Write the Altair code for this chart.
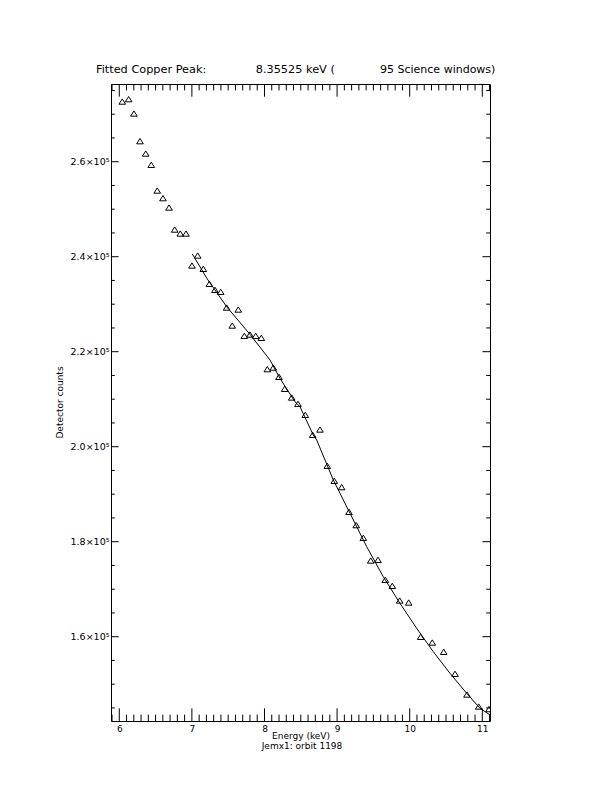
import altair as alt
import pandas as pd
import numpy as np

# ---- data ----
energy = [6.041, 6.129, 6.202, 6.285, 6.364, 6.441, 6.523, 6.602, 6.685, 6.763,
          6.840, 6.919, 7.001, 7.080, 7.157, 7.240, 7.318, 7.397, 7.479, 7.556,
          7.639, 7.722, 7.800, 7.879, 7.956, 8.039, 8.121, 8.200, 8.278, 8.375,
          8.461, 8.562, 8.664, 8.764, 8.865, 8.961, 9.063, 9.164, 9.264, 9.361,
          9.463, 9.563, 9.664, 9.760, 9.862, 9.986, 10.151, 10.311, 10.468, 10.624,
          10.789, 10.950, 11.092]
counts = [2.7263, 2.7314, 2.7011, 2.6429, 2.6168, 2.5931, 2.5389, 2.5229, 2.5032, 2.4568,
          2.4484, 2.4484, 2.3811, 2.4021, 2.3741, 2.3425, 2.3299, 2.3257, 2.2926, 2.2547,
          2.2884, 2.2331, 2.2358, 2.2331, 2.2288, 2.1629, 2.1663, 2.1467, 2.1215, 2.1032,
          2.0899, 2.0667, 2.0246, 2.0358, 1.9594, 1.9278, 1.9145, 1.8625, 1.8345, 1.8078,
          1.7600, 1.7615, 1.7194, 1.7067, 1.6758, 1.6716, 1.5994, 1.5874, 1.5678, 1.5215,
          1.4779, 1.4526, 1.4472]
counts = [c * 1e5 for c in counts]

fit_energy = [7.006, 7.212, 7.479, 7.800, 8.076, 8.213, 8.420, 8.489, 8.672, 8.719,
              8.948, 9.178, 9.408, 9.636, 9.866, 10.096, 10.325, 10.555, 10.785, 10.968, 11.106]
fit_counts = [2.4057, 2.3531, 2.2947, 2.2366, 2.1825, 2.1440, 2.0947, 2.0842, 2.0246, 2.0141,
              1.9299, 1.8598, 1.7895, 1.7263, 1.6703, 1.6177, 1.5684, 1.5229, 1.4808, 1.4493, 1.4352]
fit_counts = [c * 1e5 for c in fit_counts]

x_major = [6, 7, 8, 9, 10, 11]
x_minor = [round(v, 1) for v in np.arange(5.9, 11.11, 0.1) if abs(v - round(v)) > 1e-6]
y_major = [160000, 180000, 200000, 220000, 240000, 260000]
y_minor = [v for v in range(145000, 276000, 5000) if v % 20000 != 0]

title_a = "Fitted Copper Peak:"
title_b = "8.35525 keV ("
title_c = "95 Science windows)"
x_title = "Energy (keV)"
sub_title = "Jemx1: orbit 1198"
y_title = "Detector counts"

W, H = 379, 637
FONT = "DejaVu Sans"

xs = alt.Scale(domain=[5.886, 11.106], zero=False, nice=False)
ys = alt.Scale(domain=[142250, 276360], zero=False, nice=False)

pts = pd.DataFrame({"e": energy, "c": counts})
fit = pd.DataFrame({"e": fit_energy, "c": fit_counts})

tri = "M-1,0.75L1,0.75L0,-0.85Z"

points = alt.Chart(pts).mark_point(shape=tri, size=44, filled=False, color="black",
                                   strokeWidth=1, opacity=1, clip=True).encode(
    x=alt.X("e:Q", scale=xs,
            axis=alt.Axis(values=x_major, title=None, grid=False, ticks=False, tickSize=0,
                          domain=False, labelFont=FONT, labelFontSize=9, labelColor="black",
                          labelPadding=3, labelFlush=False, format="d")),
    y=alt.Y("c:Q", scale=ys,
            axis=alt.Axis(values=y_major, title=None, grid=False, ticks=False, tickSize=0,
                          domain=False, labelFont=FONT, labelFontSize=9.5, labelColor="black",
                          labelPadding=2,
                          labelExpr="format(datum.value/1e5, '.1f') + '×10⁵'")),
)

line = alt.Chart(fit).mark_line(color="black", strokeWidth=1, clip=True).encode(
    x=alt.X("e:Q", scale=xs), y=alt.Y("c:Q", scale=ys))

def xticks(vals, length):
    d = pd.DataFrame({"v": vals})
    bot = alt.Chart(d).mark_rule(color="black", strokeWidth=1).encode(
        x=alt.X("v:Q", scale=xs), y=alt.value(H), y2=alt.value(H - length))
    top = alt.Chart(d).mark_rule(color="black", strokeWidth=1).encode(
        x=alt.X("v:Q", scale=xs), y=alt.value(0), y2=alt.value(length))
    return [bot, top]

def yticks(vals, length):
    d = pd.DataFrame({"v": vals})
    left = alt.Chart(d).mark_rule(color="black", strokeWidth=1).encode(
        y=alt.Y("v:Q", scale=ys), x=alt.value(0), x2=alt.value(length))
    right = alt.Chart(d).mark_rule(color="black", strokeWidth=1).encode(
        y=alt.Y("v:Q", scale=ys), x=alt.value(W), x2=alt.value(W - length))
    return [left, right]

def txt(s, x, y, size, align="left", angle=0, baseline="alphabetic"):
    d = pd.DataFrame({"t": [s]})
    return alt.Chart(d).mark_text(font=FONT, fontSize=size, color="black", align=align,
                                  baseline=baseline, angle=angle).encode(
        text="t:N", x=alt.value(x), y=alt.value(y))

layers = (xticks(x_major, 12.7) + xticks(x_minor, 6.4) +
          yticks(y_major, 7.6) + yticks(y_minor, 3.8) +
          [line, points,
           txt(title_a, -15, -11, 11.3),
           txt(title_b, 144.7, -11, 11.3),
           txt(title_c, 269, -11, 11),
           txt(x_title, 190, 654.5, 9, align="center"),
           txt(sub_title, 191, 665, 9, align="center"),
           txt(y_title, -51.5, H / 2, 9, align="center", angle=270, baseline="middle")])

chart = alt.layer(*layers).properties(
    width=W, height=H,
    autosize=alt.AutoSizeParams(type="none"),
    padding={"left": 103, "top": 76, "right": 10, "bottom": 50},
    background="white",
).configure_view(stroke="black", strokeWidth=1)

chart.save("out.html", embed_options={"renderer": "svg", "actions": False})
